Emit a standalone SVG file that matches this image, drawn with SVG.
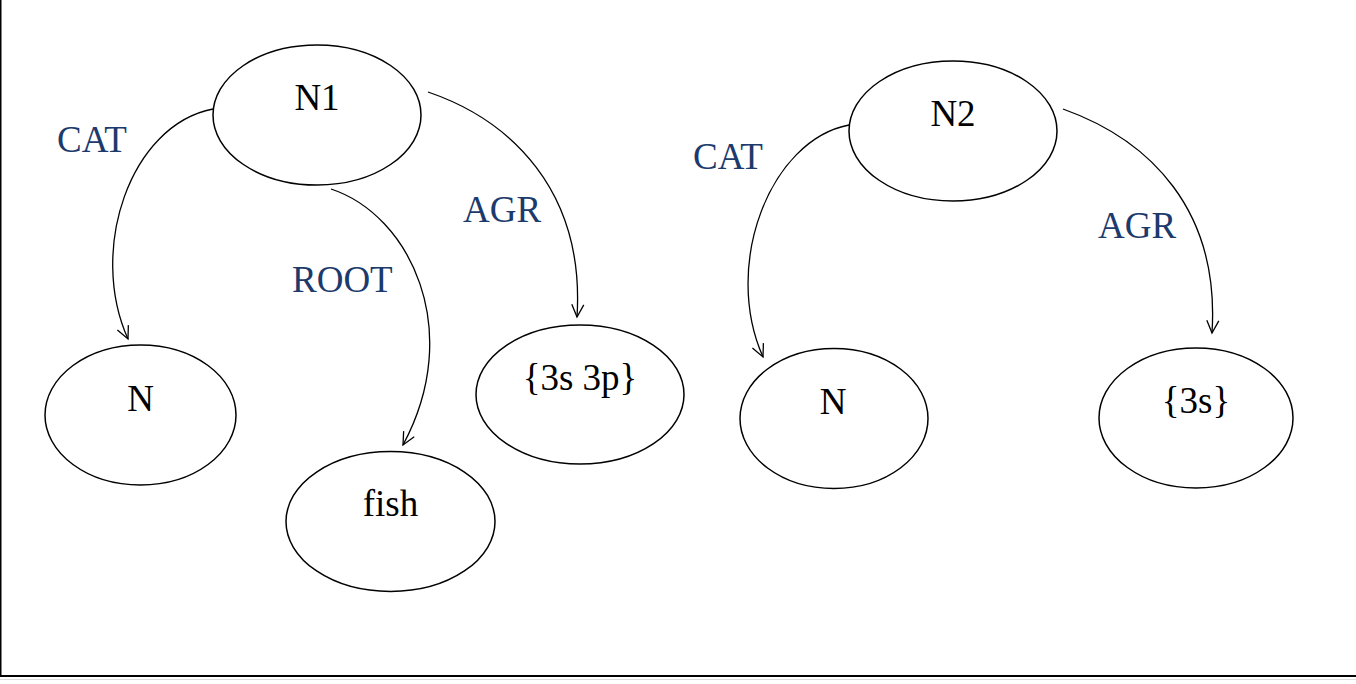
<svg xmlns="http://www.w3.org/2000/svg" width="1356" height="684" viewBox="0 0 1356 684">
<defs>
<style>
.node ellipse{fill:#fff;stroke:#000;stroke-width:1.5}
.node text{font-family:"Liberation Serif","Times New Roman",serif;font-size:37px;fill:#000;text-anchor:middle}
.edge{fill:none;stroke:#000;stroke-width:1.3;marker-end:url(#arr)}
.lbl{font-family:"Liberation Serif","Times New Roman",serif;font-size:37px;fill:#1c3a6b}
</style>
<marker id="arr" markerUnits="userSpaceOnUse" markerWidth="16" markerHeight="16" refX="14" refY="8" orient="auto" viewBox="0 0 16 16">
<path d="M1.5,2 L14,8 L1.5,14" fill="none" stroke="#000" stroke-width="1.3"/>
</marker>
</defs>
<rect width="1356" height="684" fill="#fff"/>
<line x1="0.75" y1="0" x2="0.75" y2="677" stroke="#000" stroke-width="1.5"/>
<line x1="0" y1="676" x2="1356" y2="676" stroke="#000" stroke-width="2"/>
<line x1="0" y1="679.5" x2="1356" y2="679.5" stroke="#ddd" stroke-width="1"/>

<g id="connectors">
<path class="edge" d="M213,109 C130,125 88,250 128,339"/>
<path class="edge" d="M331,189 C410,215 465,330 403,445"/>
<path class="edge" d="M428,92 C510,120 585,190 577,317"/>
<path class="edge" d="M849,125 C770,140 722,265 763,357"/>
<path class="edge" d="M1063,109 C1150,140 1220,210 1212,333"/>
<text class="lbl" x="57" y="152">CAT</text>
<text class="lbl" x="292" y="292">ROOT</text>
<text class="lbl" x="463" y="222">AGR</text>
<text class="lbl" x="693" y="169">CAT</text>
<text class="lbl" x="1098" y="238">AGR</text>
</g>

<g id="N1" class="node"><ellipse cx="317" cy="115" rx="104" ry="70"/><text x="317" y="110">N1</text></g>
<g id="N_left" class="node"><ellipse cx="140.5" cy="415" rx="95.5" ry="70"/><text x="140.5" y="411">N</text></g>
<g id="fish" class="node"><ellipse cx="390.5" cy="521.5" rx="104.5" ry="70"/><text x="390.5" y="516">fish</text></g>
<g id="agr1" class="node"><ellipse cx="580" cy="394.5" rx="104" ry="69.5"/><text x="580" y="390">{3s 3p}</text></g>
<g id="N2" class="node"><ellipse cx="953" cy="131" rx="104" ry="70"/><text x="953" y="126">N2</text></g>
<g id="N_right" class="node"><ellipse cx="834" cy="418.5" rx="94" ry="70"/><text x="833" y="414">N</text></g>
<g id="agr2" class="node"><ellipse cx="1196" cy="418" rx="97" ry="70"/><text x="1196" y="413">{3s}</text></g>
</svg>
